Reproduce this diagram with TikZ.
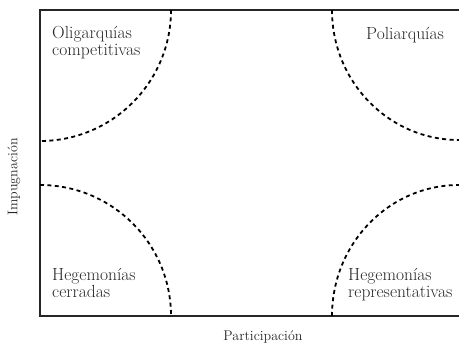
\documentclass[tikz,border=0pt]{standalone}
\usepackage{fontspec}
\begin{document}
\begin{tikzpicture}[x=1pt,y=1pt,
  frame/.style={line width=1.4pt,black!85},
  boundary/.style={line width=1.8pt,dash pattern=on 4pt off 3.4pt,black},
  lbl/.style={inner sep=0pt,font=\fontsize{17.5}{17.5}\selectfont,text=black!85,align=left,anchor=base west},
  axis/.style={inner sep=0pt,font=\fontsize{14}{16}\selectfont,text=black!85}]
\useasboundingbox (0,0) rectangle (459,345);
% frame corners
\coordinate (tl) at (40,335);
\coordinate (bl) at (40,29);
\coordinate (tr) at (460,335);
\coordinate (br) at (460,29);
\draw[frame] (tr) -- (tl) -- (bl) -- (br);
% arc start points
\coordinate (a1) at (171,335);
\coordinate (a2) at (332,335);
\coordinate (a3) at (40,160);
\coordinate (a4) at (332,29);
\draw[boundary] (a1) arc[start angle=0,end angle=-90,radius=131];
\draw[boundary] (a2) arc[start angle=180,end angle=270,x radius=127,y radius=130];
\draw[boundary] (a3) arc[start angle=90,end angle=0,radius=131];
\draw[boundary] (a4) arc[start angle=180,end angle=90,x radius=127,y radius=131];
% labels (base = last line)
\node[lbl] (oc) at (52,289) {Oligarquías\\competitivas};
\node[lbl] (po) at (366,305) {Poliarquías};
\node[lbl] (hc) at (52,47) {Hegemonías\\cerradas};
\node[lbl] (hr) at (348,47) {Hegemonías\\representativas};
\node[axis,anchor=base] (px) at (263,4) {Participación};
\node[axis,rotate=90] (iy) at (14,168) {Impugnación};
\end{tikzpicture}
\end{document}
